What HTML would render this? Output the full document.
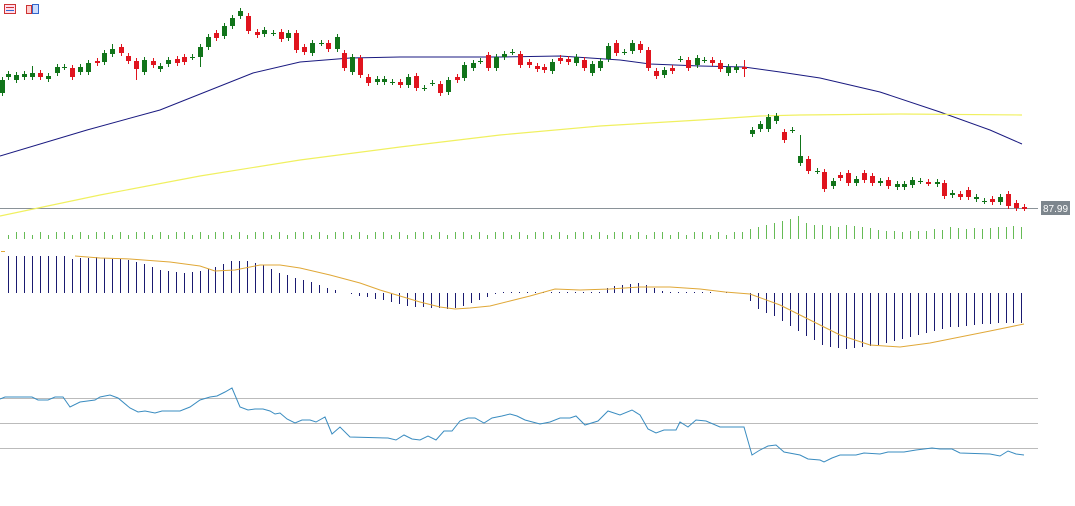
<!DOCTYPE html>
<html><head><meta charset="utf-8"><style>
html,body{margin:0;padding:0;background:#fff;width:1075px;height:506px;overflow:hidden}
svg{display:block}
</style></head><body>
<svg id="s" width="1075" height="506" xmlns="http://www.w3.org/2000/svg" shape-rendering="crispEdges">
<g>
<rect x="4.5" y="4.5" width="11" height="9" fill="#fde" stroke="#c33"/>
<line x1="6" y1="7.5" x2="14" y2="7.5" stroke="#c33"/><line x1="6" y1="10.5" x2="14" y2="10.5" stroke="#36c"/>
<rect x="26.5" y="5.5" width="5" height="8" fill="#fcc" stroke="#c33"/><rect x="32.5" y="4.5" width="6" height="9" fill="#cdf" stroke="#36c"/>
</g>
<line x1="0" y1="208.5" x2="1038" y2="208.5" stroke="#8a9298"/>
<rect x="1041" y="201" width="29" height="14" fill="#7d868d"/>
<text x="1055.5" y="212" font-family="Liberation Sans, sans-serif" font-size="10" fill="#fff" text-anchor="middle">87.99</text>
<line x1="0" y1="398.5" x2="1038" y2="398.5" stroke="#bbb"/>
<line x1="0" y1="423.5" x2="1038" y2="423.5" stroke="#bbb"/>
<line x1="0" y1="448.5" x2="1038" y2="448.5" stroke="#bbb"/>
<g id="g"></g>
</svg>
<script>
var NS="http://www.w3.org/2000/svg",G=document.getElementById('g');
function el(t,a){var e=document.createElementNS(NS,t);for(var k in a)e.setAttribute(k,a[k]);G.appendChild(e);return e;}
function pl(pts,c,w){el('polyline',{points:pts.map(function(p){return p.join(',')}).join(' '),fill:'none',stroke:c,'stroke-width':w||1,'shape-rendering':'auto'});}
// MAs
pl([[0,156],[87,130],[160,110],[253,73],[300,62],[350,58],[400,57],[500,57],[560,56],[620,60],[650,64],[700,66],[744,67],[780,72],[820,78],[880,92],[940,112],[990,130],[1022,144]],'#1a1a80');
pl([[0,216],[100,195],[200,176],[300,160],[400,147],[500,135],[600,126],[700,120],[760,116],[800,115],[900,114],[1022,115]],'#f0f060',1.2);
// candles [x,color,top,bot]
var C=[[2,'g',80,93],[8,'g',74,77],[16,'g',75,80],[24,'g',74,77],[32,'g',73,77],[40,'r',73,77],[48,'g',76,79],[57,'g',67,73],[64,'d',67,67],[72,'r',68,77],[80,'g',67,72],[88,'g',63,72],[97,'r',61,63],[104,'g',53,62],[112,'g',49,54],[121,'r',47,53],[128,'r',56,61],[136,'r',61,69],[144,'g',60,72],[153,'r',61,65],[160,'g',66,69],[168,'g',60,64],[177,'r',59,63],[184,'r',57,62],[192,'d',57,57],[200,'g',47,57],[208,'g',37,47],[216,'r',33,38],[224,'g',26,36],[232,'g',18,26],[240,'g',11,16],[248,'r',16,31],[257,'r',32,35],[264,'g',30,34],[273,'d',33,33],[281,'r',32,39],[288,'g',33,38],[296,'r',33,50],[304,'r',47,52],[312,'g',43,53],[321,'d',43,43],[328,'r',43,49],[337,'g',37,49],
[344,'r',53,68],[352,'g',57,72],[360,'r',58,75],[368,'r',77,83],[377,'g',79,82],[384,'g',79,82],[392,'d',82,82],[400,'r',82,85],[408,'g',77,85],[416,'r',76,88],[424,'d',88,88],[432,'d',83,83],[440,'r',84,93],[448,'g',80,92],[457,'r',77,80],[464,'g',65,78],[473,'g',63,68],[480,'d',61,61],[488,'r',55,68],[496,'g',57,68],[504,'g',54,57],[512,'d',52,52],[520,'r',54,65],[529,'r',62,65],[537,'r',66,69],[544,'r',67,70],[552,'g',62,71],[560,'r',58,61],[568,'r',59,62],[576,'g',57,63],[584,'r',60,68],[592,'g',64,73],[600,'g',61,68],[608,'g',46,59],[616,'r',43,53],[624,'d',52,52],[632,'g',43,51],[640,'r',44,50],[648,'r',50,68],[656,'r',71,76],[664,'g',70,75],[672,'r',68,71],[680,'d',59,59],[688,'r',60,68],[697,'g',58,65],[704,'d',60,60],[712,'r',60,63],[720,'r',63,69],[728,'g',67,73],[736,'g',67,70],[744,'r',67,68],
[752,'g',130,134],[760,'g',124,129],[768,'g',117,129],[776,'g',116,121],[784,'r',132,140],[792,'d',130,130],[800,'g',156,163],[808,'r',159,171],[817,'d',171,171],[824,'r',172,189],[833,'g',181,186],[840,'r',175,178],[848,'r',173,183],[856,'g',179,183],[864,'r',173,180],[872,'r',176,183],[880,'g',181,183],[888,'r',180,186],[897,'g',184,187],[904,'g',184,187],[912,'g',180,185],[920,'d',181,181],[928,'r',182,183],[937,'g',182,184],[944,'r',183,196],[952,'g',193,195],[960,'r',194,197],[968,'r',190,197],[976,'g',197,199],[984,'d',201,201],[992,'r',199,202],[1000,'g',197,202],[1008,'r',194,206],[1016,'r',203,208],[1024,'r',207,208]];
var wk={32:66,136:-80,112:44,200:-67,800:135,744:60};
C.forEach(function(c){var x=c[0],col=c[1]=='r'?'#e0141e':'#11741a';var t=c[2],b=c[3];
 var wt=t-3,wb=b+3;if(wk[x]>0)wt=wk[x];if(wk[x]<0)wb=-wk[x];if(x==744){wb=77;col='#e0141e';}
 el('line',{x1:x+.5,y1:wt,x2:x+.5,y2:wb,stroke:col});
 if(c[1]=='d')el('line',{x1:x-2,y1:t+.5,x2:x+3,y2:t+.5,stroke:col});
 else el('rect',{x:x-2,y:t,width:5,height:Math.max(2,b-t),fill:col});
});
// volume
for(var i=0;i<128;i++){var x=Math.round(8+i*7.98);var h=(i*37%5)<2?4:7;if(x>=750){h=[10,12,14,16,18,20,23,16,14,14,13,12,14,13,12,11,9,8,8,7,8,8,8,10,9,12,11,10,11,10,11,12,12,13,12,11][Math.min(35,Math.round((x-752)/8))]||10;}
 el('line',{x1:x+.5,y1:239-h,x2:x+.5,y2:239,stroke:'#66bb55'});}
// MACD histogram
var M=[[8,256],[64,256],[72,259],[96,257],[104,258],[128,260],[144,264],[160,270],[184,273],[200,271],[216,267],[232,261],[248,261],[264,265],[280,273],[296,278],[312,282],[328,288],[336,290],[344,293],[360,296],[384,300],[408,306],[432,308],[448,309],[464,306],[480,300],[496,294],[504,292],[600,292],[608,287],[632,284],[640,283],[656,289],[664,292],[744,293],[752,304],[760,311],[768,314],[776,317],[784,322],[792,327],[800,332],[808,337],[816,341],[824,346],[840,348],[848,349],[856,348],[872,346],[888,343],[904,338],[920,334],[936,330],[952,327],[968,326],[984,324],[1000,323],[1024,323]];
function interp(A,x){for(var j=0;j<A.length-1;j++){if(x>=A[j][0]&&x<=A[j+1][0]){var f=(x-A[j][0])/(A[j+1][0]-A[j][0]);return A[j][1]+f*(A[j+1][1]-A[j][1]);}}return A[A.length-1][1];}
for(var i=0;i<128;i++){var x=Math.round(8+i*7.98);var y=Math.round(interp(M,x));var z=293;
 if(Math.abs(y-z)<1){if(x>500&&x<740&&i%2==0)el('rect',{x:x,y:292,width:1,height:1,fill:'#1a1a70'});continue;}
 el('line',{x1:x+.5,y1:Math.min(y,z),x2:x+.5,y2:Math.max(y,z),stroke:'#1a1a70'});}
pl([[75,256],[100,258],[130,259],[170,262],[200,266],[215,271],[235,270],[260,265],[280,265],[300,268],[330,275],[360,283],[380,290],[400,296],[420,302],[440,307],[455,309],[470,308],[490,306],[510,301],[530,296],[555,289],[580,290],[610,289],[640,287],[670,287],[700,289],[725,292],[750,294],[780,305],[810,320],[840,335],[870,345],[900,347],[930,343],[960,337],[990,331],[1024,324]],'#e0a838');
el('line',{x1:1,y1:251.5,x2:5,y2:251.5,stroke:'#e0a838'});
// RSI
pl([[0,399],[5,397],[32,397],[38,400],[48,400],[55,397],[63,397],[70,407],[80,402],[95,400],[100,397],[110,395],[118,398],[130,408],[138,412],[145,411],[155,413],[162,411],[180,411],[190,407],[200,400],[210,397],[217,396],[225,392],[232,388],[240,407],[248,410],[255,409],[263,409],[270,411],[275,414],[280,413],[287,419],[295,423],[302,420],[310,420],[316,422],[325,417],[332,434],[340,427],[350,437],[388,438],[396,440],[404,435],[412,439],[420,440],[428,436],[436,440],[444,431],[452,431],[460,421],[468,418],[475,418],[484,423],[492,418],[502,416],[510,414],[517,416],[525,420],[540,424],[550,422],[560,418],[570,418],[576,416],[585,425],[598,421],[608,411],[620,415],[632,410],[640,415],[648,429],[656,433],[664,430],[676,430],[680,422],[688,427],[696,420],[706,421],[720,427],[744,427],[752,455],[760,450],[768,446],[776,445],[784,452],[800,455],[808,459],[820,460],[824,462],[832,458],[840,455],[856,455],[864,453],[880,454],[888,452],[904,452],[916,450],[932,448],[940,449],[952,449],[960,453],[990,454],[1000,456],[1008,451],[1016,454],[1024,455]],'#3a8cc0');
</script>
</body></html>
